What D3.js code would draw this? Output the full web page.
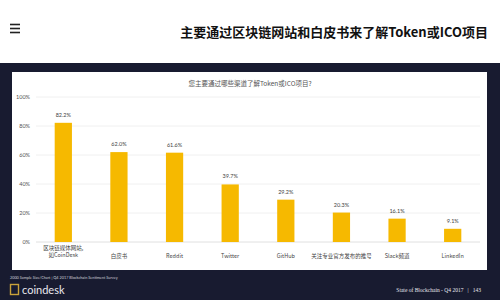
<!DOCTYPE html>
<html><head><meta charset="utf-8">
<script src="https://cdn.jsdelivr.net/npm/d3@7"></script>
<style>html,body{margin:0;padding:0;background:#fff;}svg{display:block;}</style>
</head><body>
<svg id="c" width="500" height="300"></svg>
<script>
const categories = ["区块链媒体网站,\n如CoinDesk", "白皮书", "Reddit", "Twitter", "GitHub", "关注专业官方发布的推号", "Slack频道", "LinkedIn"];
const values = [82.2, 62.0, 61.6, 39.7, 29.2, 20.3, 16.1, 9.1];
const valueLabels = ["82.2%", "62.0%", "61.6%", "39.7%", "29.2%", "20.3%", "16.1%", "9.1%"];
const yTicks = [0, 20, 40, 60, 80, 100];
const yTickLabels = ["0%", "20%", "40%", "60%", "80%", "100%"];
const pageTitle = "主要通过区块链网站和白皮书来了解Token或ICO项目";
const chartTitle = "您主要通过哪些渠道了解Token或ICO项目?";
const sourceText = "2000 Sample Size/Chart | Q4 2017 Blockchain Sentiment Survey";
const footerText = "State of Blockchain - Q4 2017   |   143";

const svg = d3.select("#c");
const W = 500, H = 300;
const dark = "#181b30";
const barColor = "#f6b900";

// top white header
svg.append("rect").attr("x",0).attr("y",0).attr("width",W).attr("height",63).attr("fill","#fff");
// dark band
svg.append("rect").attr("x",0).attr("y",63).attr("width",W).attr("height",H-63).attr("fill",dark);
// hamburger
[24.5, 28.5, 32.5].forEach(y => svg.append("rect").attr("x",10).attr("y",y-0.8).attr("width",10).attr("height",1.6).attr("fill","#222"));
svg.append("text").attr("x",488).attr("y",37).attr("text-anchor","end")
  .attr("font-family","Noto Sans CJK SC, sans-serif").attr("font-size",13).attr("font-weight","bold")
  .attr("fill","#111").text(pageTitle);

// white panel
svg.append("rect").attr("x",12).attr("y",72).attr("width",475).attr("height",198).attr("fill","#fff");

svg.append("text").attr("x",250).attr("y",85.5).attr("text-anchor","middle")
  .attr("font-family","Noto Sans CJK SC, sans-serif").attr("font-size",6.5).attr("fill","#555").text(chartTitle);

const x = d3.scaleBand().domain(categories).range([35.5, 480.5]).paddingInner(0.69).paddingOuter(0.345);
const y = d3.scaleLinear().domain([0, 100]).range([242, 97]);

// gridlines
svg.append("g").selectAll("line").data(yTicks).join("line")
  .attr("x1",36).attr("x2",480).attr("y1",d=>y(d)).attr("y2",d=>y(d))
  .attr("stroke",d=>d===0?"#d8d8d8":"#ececec").attr("stroke-width",0.8);
svg.append("g").selectAll("text").data(yTicks).join("text")
  .attr("x",30).attr("y",d=>y(d)+2).attr("text-anchor","end")
  .attr("font-family","Lato, sans-serif").attr("font-size",5.5).attr("fill","#555")
  .text((d,i)=>yTickLabels[i]);

// bars
svg.append("g").selectAll("rect").data(values).join("rect")
  .attr("x",(d,i)=>x(categories[i])).attr("width",x.bandwidth())
  .attr("y",d=>y(d)).attr("height",d=>y(0)-y(d)).attr("fill",barColor);
svg.append("g").selectAll("text").data(values).join("text")
  .attr("x",(d,i)=>x(categories[i])+x.bandwidth()/2).attr("y",d=>y(d)-6)
  .attr("text-anchor","middle").attr("font-family","Lato, sans-serif").attr("font-size",5.5).attr("fill","#444")
  .text((d,i)=>valueLabels[i]);

// category labels
const cl = svg.append("g");
categories.forEach((c,i)=>{
  const lines = c.split("\n");
  const t = cl.append("text").attr("x",x(c)+x.bandwidth()/2).attr("text-anchor","middle")
    .attr("font-family","Noto Sans CJK SC, sans-serif").attr("font-size",5.5).attr("fill","#444");
  const y0 = lines.length>1 ? 250 : 257.5;
  lines.forEach((l,j)=>t.append("tspan").attr("x",x(c)+x.bandwidth()/2).attr("y",y0+j*7).text(l));
});

// footer
svg.append("text").attr("x",10).attr("y",279).attr("font-family","Lato, sans-serif").attr("font-size",3.8).attr("fill","#cfd1da").text(sourceText);
svg.append("rect").attr("x",10.5).attr("y",284.5).attr("width",8).attr("height",10).attr("fill","none").attr("stroke","#c9a23a").attr("stroke-width",1.4);
svg.append("text").attr("x",22).attr("y",294).attr("font-family","Lato, sans-serif").attr("font-size",11).attr("fill","#e8e8ee").text("coindesk");
svg.append("text").attr("x",481).attr("y",292).attr("text-anchor","end").attr("font-family","Liberation Serif, serif").attr("font-size",5.5).attr("fill","#e8e8ee").attr("xml:space","preserve").style("white-space","pre").text(footerText);
</script>
</body></html>
